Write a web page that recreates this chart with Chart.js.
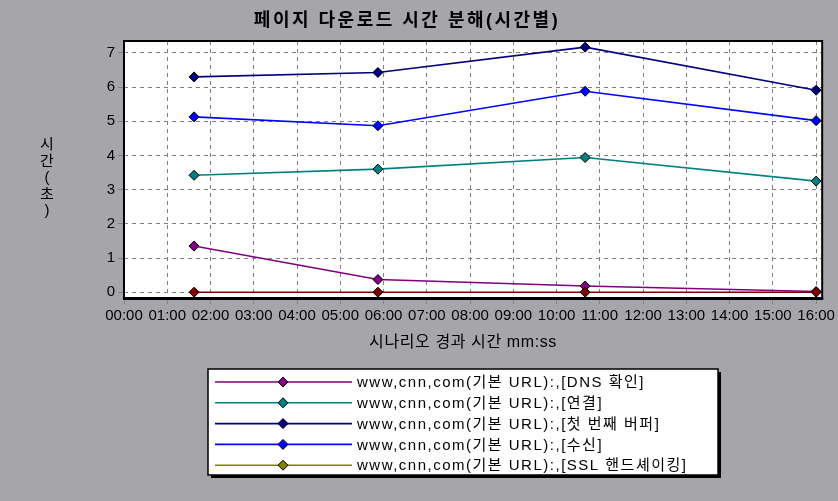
<!DOCTYPE html>
<html>
<head>
<meta charset="utf-8">
<script src="https://cdn.jsdelivr.net/npm/chart.js@4.4.1/dist/chart.umd.min.js"></script>
<style>
    html, body { margin: 0; padding: 0; background: #a6a5aa; }
    #wrap { width: 838px; height: 501px; }
</style>
</head>
<body>
<div id="wrap"><canvas id="timeChart" width="838" height="501"></canvas></div>
<script>
// Elapsed scenario time of each sample, minutes
const sampleTimes = [1.62, 5.87, 10.66, 16.0];

// Seconds per breakdown component
const dnsValues = [1.35, 0.37, 0.18, 0.02];
const connectValues = [3.42, 3.60, 3.94, 3.25];
const firstBufferValues = [6.30, 6.43, 7.17, 5.91];
const receiveValues = [5.13, 4.87, 5.88, 5.02];
const sslValues = [0, 0, 0, 0];

const seriesLabels = [
    'www,cnn,com(기본 URL):,[DNS 확인]',
    'www,cnn,com(기본 URL):,[연결]',
    'www,cnn,com(기본 URL):,[첫 번째 버퍼]',
    'www,cnn,com(기본 URL):,[수신]',
    'www,cnn,com(기본 URL):,[SSL 핸드셰이킹]'
];
const xTickMinutes = [0, 1, 2, 3, 4, 5, 6, 7, 8, 9, 10, 11, 12, 13, 14, 15, 16];
const yTickValues = [0, 1, 2, 3, 4, 5, 6, 7];

const chartTitle = '페이지 다운로드 시간 분해(시간별)';
const xTitle = '시나리오 경과 시간 mm:ss';
const yTitleChars = ['시', '간', '(', '초', ')'];

const lineColors = ['#800080', '#008080', '#000080', '#0000ff', '#800000'];
const legendColors = ['#800080', '#008080', '#000080', '#0000ff', '#808000'];
const FONT = '"Liberation Sans", "Noto Sans CJK KR", sans-serif';

const seriesValues = [dnsValues, connectValues, firstBufferValues, receiveValues, sslValues];

const datasets = seriesValues.map((vals, i) => ({
    label: seriesLabels[i],
    data: vals.map((v, j) => ({ x: sampleTimes[j], y: v })),
    borderColor: lineColors[i],
    backgroundColor: lineColors[i],
    borderWidth: 1.6,
    pointStyle: 'rectRot',
    pointRadius: 5,
    pointBorderColor: '#000000',
    pointBorderWidth: 1,
    tension: 0
}));

// draw order: the zero line sits under the others
datasets.reverse();

function mmss(m) {
    return String(m).padStart(2, '0') + ':00';
}

const backgroundPlugin = {
    id: 'background',
    beforeDraw(chart) {
        const { ctx, chartArea: a } = chart;
        ctx.save();
        ctx.fillStyle = '#a6a5aa';
        ctx.fillRect(0, 0, chart.width, chart.height);
        ctx.fillStyle = '#ffffff';
        ctx.fillRect(a.left, a.top, a.right - a.left, a.bottom - a.top);
        ctx.restore();
    }
};

const framePlugin = {
    id: 'frame',
    afterDraw(chart) {
        const { ctx, chartArea: a } = chart;
        ctx.save();
        ctx.strokeStyle = '#000000';
        ctx.lineWidth = 2;
        ctx.strokeRect(a.left, a.top, a.right - a.left, a.bottom - a.top);
        ctx.fillStyle = '#000000';
        ctx.fillRect(a.left - 1, a.bottom - 1, a.right - a.left + 2, 3);

        // titles
        ctx.textAlign = 'center';
        ctx.textBaseline = 'middle';
        ctx.font = 'bold 18px ' + FONT;
        ctx.letterSpacing = '2.5px';
        ctx.fillText(chartTitle, 407, 21);
        ctx.font = '16px ' + FONT;
        ctx.letterSpacing = '0.6px';
        ctx.fillText(xTitle, 463, 343);
        ctx.font = '15px ' + FONT;
        ctx.letterSpacing = '0px';
        yTitleChars.forEach((c, i) => ctx.fillText(c, 47, 145 + i * 16.5));

        // legend box
        const bx = 208, by = 369, bw = 510, bh = 106;
        ctx.fillStyle = '#000000';
        ctx.fillRect(bx + 3, by + 3, bw, bh);
        ctx.fillStyle = '#ffffff';
        ctx.fillRect(bx, by, bw, bh);
        ctx.lineWidth = 1.5;
        ctx.strokeRect(bx, by, bw, bh);

        ctx.textAlign = 'left';
        ctx.font = '15px ' + FONT;
        ctx.letterSpacing = '1.5px';
        seriesLabels.forEach((label, i) => {
            const y = 382 + i * 20.8;
            ctx.strokeStyle = legendColors[i];
            ctx.lineWidth = 1.6;
            ctx.beginPath();
            ctx.moveTo(215, y);
            ctx.lineTo(352, y);
            ctx.stroke();
            ctx.fillStyle = legendColors[i];
            ctx.strokeStyle = '#000000';
            ctx.lineWidth = 1;
            ctx.beginPath();
            ctx.moveTo(283, y - 5);
            ctx.lineTo(288, y);
            ctx.lineTo(283, y + 5);
            ctx.lineTo(278, y);
            ctx.closePath();
            ctx.fill();
            ctx.stroke();
            ctx.fillStyle = '#000000';
            ctx.fillText(label, 357, y + 1);
        });
        ctx.restore();
    }
};

new Chart(document.getElementById('timeChart'), {
    type: 'line',
    data: { datasets },
    options: {
        responsive: false,
        animation: false,
        devicePixelRatio: 1,
        layout: { padding: { top: 41, right: 13, left: 0, bottom: 173 } },
        plugins: {
            legend: { display: false },
            title: { display: false },
            tooltip: { enabled: false }
        },
        scales: {
            x: {
                type: 'linear',
                min: 0,
                max: 16.14,
                afterBuildTicks: (s) => { s.ticks = xTickMinutes.map(v => ({ value: v })); },
                afterFit: (s) => { s.height = 30; },
                ticks: {
                    autoSkip: false,
                    maxRotation: 0,
                    padding: 3,
                    color: '#000000',
                    font: { family: FONT, size: 15 },
                    callback: (v) => mmss(v)
                },
                grid: { color: '#808080', tickColor: '#808080', tickLength: 6, tickBorderDash: [] },
                border: { display: false, dash: [4, 4] }
            },
            y: {
                min: -0.17,
                max: 7.35,
                afterBuildTicks: (s) => { s.ticks = yTickValues.map(v => ({ value: v })); },
                afterFit: (s) => { s.width = 124; },
                ticks: {
                    padding: 3,
                    color: '#000000',
                    font: { family: FONT, size: 15 }
                },
                grid: { color: '#808080', tickColor: '#808080', tickLength: 6, tickBorderDash: [] },
                border: { display: false, dash: [4, 4] }
            }
        }
    },
    plugins: [backgroundPlugin, framePlugin]
});
</script>
</body>
</html>
